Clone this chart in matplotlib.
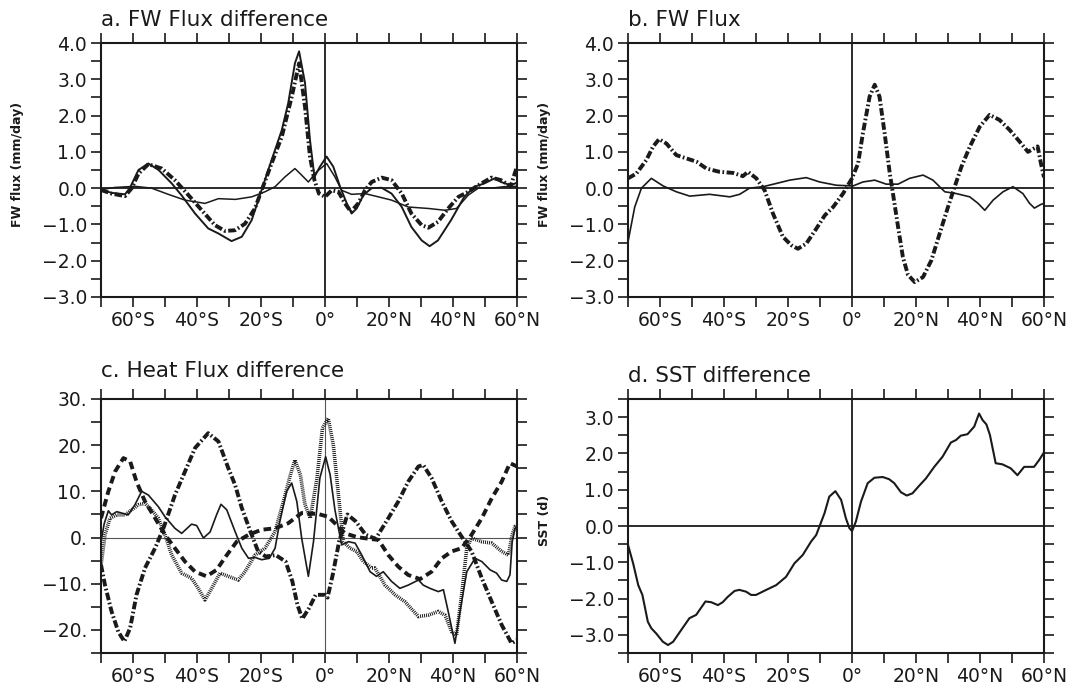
import matplotlib
matplotlib.use("Agg")
import matplotlib.pyplot as plt

plt.rcParams["font.family"] = ["DejaVu Sans"]
plt.rcParams["lines.scale_dashes"] = False

INK = "#1a1a1a"

# ---- a. FW Flux difference ----
a_big_lat = [-70, -66.7, -62.5, -61, -58.3, -55.2, -52, -47.9, -44.8, -40.6, -36.5, -33.3, -29.2, -26,
             -22.9, -19.8, -16.7, -13.5, -11.5, -9.4, -8.1, -6.25, -4.7, -3.3, -1.6, 0.5, 2.6, 4.7, 6.8,
             8.3, 9.9, 12, 14.6, 17.7, 20.8, 24, 27, 30.2, 32.7, 35.3, 39.4, 43.5, 46.7, 49.8, 53, 55, 58, 60]
a_big_val = [-0.04, -0.13, -0.17, 0.0, 0.5, 0.68, 0.5, 0.13, -0.2, -0.7, -1.11, -1.25, -1.46, -1.34,
             -0.88, -0.05, 0.77, 1.6, 2.34, 3.44, 3.77, 2.9, 1.33, 0.31, 0.59, 0.87, 0.59, 0.04, -0.42,
             -0.7, -0.56, -0.19, 0.0, 0.01, -0.15, -0.52, -1.07, -1.44, -1.6, -1.44, -0.88, -0.24, 0.04,
             0.13, 0.27, 0.17, 0.08, 0.15]

a_small_lat = [-70, -65.6, -59.4, -54.2, -49, -43.75, -37.5, -33.3, -28, -22.9, -18.75, -15.6, -12.5,
               -9.4, -7.3, -5.2, -2.6, 0.5, 3.1, 5.2, 8.3, 12.5, 16.7, 20.8, 26, 32.3, 37.5, 41.1, 44.8,
               47.9, 53, 56, 60]
a_small_val = [-0.04, 0.02, 0.05, 0.0, -0.17, -0.33, -0.42, -0.29, -0.31, -0.24, -0.1, 0.04, 0.31,
               0.54, 0.36, 0.17, 0.45, 0.68, 0.31, -0.06, -0.17, -0.15, -0.24, -0.33, -0.52, -0.56,
               -0.61, -0.56, -0.19, 0.0, 0.01, 0.04, 0.05]

a_dd_lat = [-70, -66.7, -62.5, -60.4, -58.3, -55.2, -51, -46.9, -42.7, -38.5, -34.4, -31.25, -28.1, -25,
            -21.9, -19.8, -16.7, -13.5, -10.4, -8.1, -6.25, -4.7, -3.3, -1.9, 0, 2.1, 4.2, 6.25, 8.1,
            10.4, 12.5, 14.6, 17.7, 20.8, 24, 27, 30.2, 32.3, 35.3, 38.5, 41.7, 44.8, 47.9, 52, 55, 58, 60]
a_dd_val = [-0.05, -0.15, -0.22, 0.0, 0.4, 0.66, 0.54, 0.22, -0.19, -0.61, -1.02, -1.18, -1.16, -0.98,
            -0.56, -0.06, 0.68, 1.42, 2.52, 3.44, 2.25, 0.87, 0.22, -0.15, -0.24, -0.06, -0.1, -0.42,
            -0.65, -0.42, -0.06, 0.17, 0.29, 0.22, -0.15, -0.7, -1.02, -1.09, -0.93, -0.56, -0.24, -0.1,
            0.08, 0.29, 0.22, 0.05, 0.6]

# ---- b. FW Flux ----
b_dd_lat = [-70, -67.4, -64.3, -62.2, -60.3, -58, -54.9, -51.8, -48.6, -45.5, -41.4, -37.2, -34.1, -32.5,
            -29.9, -27.3, -24.7, -21.6, -19, -16.9, -14.3, -11.1, -8.5, -5.9, -2.8, 0, 1.9, 3.4, 5.5,
            7.1, 8.6, 10.2, 11.8, 12.8, 14.4, 15.9, 17.5, 19.6, 22.2, 24.8, 27.4, 30, 32.1, 34.2, 36.8,
            39.9, 43, 46.1, 49.3, 52.4, 55, 57, 58, 59, 60]
b_dd_val = [0.27, 0.4, 0.77, 1.14, 1.35, 1.23, 0.91, 0.82, 0.73, 0.54, 0.45, 0.42, 0.33, 0.45,
            0.27, -0.06, -0.7, -1.34, -1.57, -1.67, -1.53, -1.11, -0.75, -0.52, -0.15, 0.27, 0.68, 1.51,
            2.52, 2.85, 2.52, 1.51, 0.41, -0.15, -1.07, -1.9, -2.39, -2.59, -2.45, -1.99, -1.25, -0.52,
            0.04, 0.59, 1.14, 1.69, 2.02, 1.88, 1.6, 1.28, 1.0, 1.1, 1.15, 0.7, 0.3]

b_sol_lat = [-70, -67.9, -65.8, -62.7, -59, -54.9, -50.7, -44.5, -38.2, -35.1, -32, -27.8, -23.6, -19.5,
             -14.3, -10.1, -4.9, 0.3, 3.4, 7.1, 10.7, 14.4, 18, 22.2, 25.3, 29, 32.6, 36.8, 39.4, 41.5,
             44.1, 47.2, 50.3, 53.4, 55.5, 57, 59, 60]
b_sol_val = [-1.48, -0.52, 0.0, 0.27, 0.06, -0.1, -0.22, -0.17, -0.24, -0.17, 0.0, 0.04, 0.13, 0.22,
             0.29, 0.17, 0.08, 0.06, 0.17, 0.22, 0.11, 0.11, 0.27, 0.36, 0.22, -0.1, -0.15, -0.24, -0.42,
             -0.61, -0.33, -0.1, 0.04, -0.15, -0.42, -0.55, -0.45, -0.42]

# ---- c. Heat Flux difference ----
c_sol_lat = [-70, -69, -67.7, -66.7, -65.1, -63.5, -61.5, -59.4, -57.3, -55.2, -52.1, -50, -46.9, -44.8,
             -41.7, -40.1, -38, -35.9, -33.9, -32.5, -30.7, -28.1, -26, -23.9, -21.9, -19.8, -17.4,
             -15.6, -14.1, -12, -10.4, -8.8, -7.3, -5.2, -3.6, -1.6, 0.2, 1.6, 3.1, 5.2, 7.3, 9.4, 11.5,
             14.1, 16.1, 18.2, 20.8, 23.4, 26, 29.2, 30.7, 32.8, 35.4, 37, 38.5, 40.6, 42.2, 44.3, 46.9,
             49, 51.6, 53.6, 55.2, 56.8, 57.8, 58.5, 59.4, 60]
c_sol_val = [-1, 3, 5.8, 4.9, 5.6, 5.3, 4.9, 7.1, 10, 9.2, 6.7, 4.5, 2, 0.9,
             2.9, 2.6, -0.1, 1.2, 4.9, 7.2, 6, 1.3, -2.3, -4.5, -4.3, -4.8, -4.5,
             -2.3, 3.5, 10, 11.8, 7.8, -0.1, -8.4, -0.9, 12.9, 17.5, 13.6, 6, -1.6, -0.9, -1.2, -3.8,
             -7.4, -8.4, -7.4, -9.5, -11, -10.3, -9.2, -10.3, -11, -11.7, -11.3, -16, -22.9, -16, -7.4,
             -4.5, -5.2, -7, -7.7, -9.2, -9.5, -8.1, -0.9, 2, 2.5]

c_dot_lat = [-70, -68.75, -67.2, -65.1, -62.5, -60.4, -58.3, -56.25, -54.2, -52.1, -50, -47.9, -44.8,
             -41.7, -39.6, -37.5, -35.4, -32.8, -30.2, -27.1, -25, -21.9, -18.75, -15.6, -13, -10.8,
             -9.4, -7.7, -6.25, -4.6, -2.5, -0.8, 1, 2.6, 4.2, 5.7, 7.8, 9.9, 12, 14.6, 15.6, 18.75,
             21.9, 25, 29.2, 32.3, 35.4, 37.5, 39.6, 41.1, 42.7, 44.3, 45.8, 49, 52.1, 55.2, 57.3, 58.5,
             59.4, 60]
c_dot_val = [-6, 0.6, 4.2, 4.9, 4.9, 6, 7.1, 7.4, 6, 4.2, 0.6, -3.8, -7.7,
             -8.8, -11, -13.5, -11, -7.7, -8.4, -9.2, -7.4, -3.8, -2.3, 1.3, 7.8, 13.6,
             16.8, 13.6, 7.1, 4.2, 12.9, 23.7, 25.8, 20.1, 9.2, -0.9, -2.3, -3, -5.2, -6.6, -6.6, -10.3,
             -12.4, -13.9, -17.1, -16.8, -16, -16.8, -20.4, -21.1, -12.4, -2.3, -0.1, -0.9, -1.2, -3,
             -3.8, 0.6, 2.4, 2.5]

c_dash_lat = [-70, -67.7, -65.6, -63, -60.9, -58.9, -56.25, -53.1, -50, -46.9, -43.75, -40.6, -37,
              -33.9, -30.7, -27.6, -23.9, -19.8, -15.6, -11.5, -7.3, -2.1, 1, 3.1, 6.25, 10, 14, 16.7,
              19.8, 22.9, 26, 29.7, 33.3, 36.5, 39.6, 42.7, 45.8, 49, 52.1, 55.2, 57.8, 60]
c_dash_val = [4.2, 10, 14.3, 17.2, 16.5, 12.1, 7.8, 4.2, 0.6, -2.3, -5.2, -7.4, -8.4,
              -7, -3.8, -0.9, 0.6, 1.7, 2, 3.1, 5.3, 5.1, 4.5, 3.1, 0.9, 0.1, -0.3, -0.5,
              -3.8, -6.3, -8.1, -9, -7.4, -4.5, -3, -2.3, 0.6, 4.2, 8.5, 12.1, 16.1, 15.4]

c_dd_lat = [-70, -68.75, -66.7, -64.6, -62.7, -60.9, -58.9, -56.25, -53.1, -50.5, -46.9, -43.75, -40.6,
            -36.5, -33.3, -30.2, -28.1, -26, -23.3, -20.9, -18.5, -15.4, -12.3, -10.2, -8.6, -7.1, -5,
            -2.9, 0, 0.8, 2.4, 4.4, 7, 9.6, 12.7, 15.8, 19.8, 22.9, 26, 29.2, 30.7, 33.3, 36.5, 39.6,
            42.7, 45.8, 49, 52.1, 55.2, 58.3, 60]
c_dd_val = [-5.9, -10.3, -16, -20.4, -22.5, -19.6, -12.4, -6.6, -2.3, 2, 9.2, 14.3, 19.4,
            22.6, 20.8, 15, 11.4, 6.4, 1.3, -3, -4.1, -3.8, -5.2, -9.5, -14.6, -17.6, -15.3,
            -12.4, -12.4, -13, -8.1, -0.9, 5, 3.5, 0.6, -0.3, 4.2, 7.8, 12.1, 15.4, 15.7, 12.9, 7.8, 3.5,
            0.2, -3, -8.8, -13.9, -18.9, -22.9, -22.2]

# ---- d. SST difference ----
d_lat = [-70, -68.4, -66.8, -65.5, -63.8, -62.7, -61.2, -59.1, -57.5, -55.9, -53.4, -50.8, -48.7, -45.8,
         -44, -41.9, -40.4, -38.8, -36.7, -35.2, -33.1, -31.5, -30, -26.8, -23.7, -20.6, -18, -15.4,
         -12.8, -11.2, -10.2, -8.6, -7.1, -5.2, -3.4, -1.9, -0.8, 0, 1.2, 2.8, 4.9, 7, 9.6, 11.6, 13.2,
         15.3, 17.1, 18.9, 21, 23.1, 25.7, 28.3, 30.9, 32.5, 34, 36.1, 38.2, 39.7, 40.8, 42, 43.1, 44.9,
         47, 49.6, 51.7, 53.8, 56.9, 58.5, 60]
d_val = [-0.52, -1.03, -1.63, -1.9, -2.64, -2.82, -2.96, -3.19, -3.28, -3.19, -2.87, -2.54, -2.45, -2.08,
         -2.1, -2.18, -2.1, -1.95, -1.79, -1.76, -1.81, -1.9, -1.9, -1.76, -1.63, -1.4, -1.03, -0.8,
         -0.43, -0.25, -0.02, 0.35, 0.81, 0.96, 0.72, 0.21, -0.06, -0.14, 0.12, 0.67, 1.18, 1.33, 1.35,
         1.29, 1.18, 0.93, 0.84, 0.9, 1.11, 1.31, 1.63, 1.91, 2.3, 2.37, 2.49, 2.53, 2.74, 3.1, 2.92,
         2.8, 2.51, 1.73, 1.7, 1.59, 1.4, 1.63, 1.63, 1.82, 2.03]

lon_ticks = list(range(-70, 61, 10))
lon_labels = {-60: "60°S", -40: "40°S", -20: "20°S", 0: "0°", 20: "20°N", 40: "40°N", 60: "60°N"}

DASHDOT = (5.5, 1.8, 1.2, 1.8)
DASHED = (5.5, 3.2)
DOTTED = (0.7, 0.75)


def fmt_num(v, style):
    s = f"{abs(v):.1f}" if style == "f1" else f"{abs(v):.0f}."
    return ("\u2212" + s) if v < 0 else s


def frame(ax, ylim, major, minor, style, title, title_pad, ylabel=None, zero_lw=1.3, zero_col=INK):
    ax.set_xlim(-70, 60)
    ax.set_ylim(*ylim)
    ax.set_xticks(lon_ticks)
    ax.set_xticklabels([lon_labels.get(t, "") for t in lon_ticks])
    ax.set_yticks(major)
    ax.set_yticklabels([fmt_num(v, style) for v in major])
    ax.set_yticks(minor, minor=True)
    ax.tick_params(which="both", direction="out", length=7, width=1.2, color=INK,
                   top=True, right=True, labelsize=13.5, labelcolor=INK, pad=3)
    for sp in ax.spines.values():
        sp.set_linewidth(1.5)
        sp.set_color(INK)
    ax.axhline(0, color=zero_col, lw=zero_lw, zorder=1)
    ax.axvline(0, color=zero_col, lw=zero_lw, zorder=1)
    ax.text(0.0, 1.0 + title_pad / 254.0, title, transform=ax.transAxes, ha="left",
            va="baseline", fontsize=15.5, color=INK)
    if ylabel:
        ax.text(-0.2, 0.52, ylabel, transform=ax.transAxes, rotation=90, ha="center",
                va="center", fontsize=9, fontweight="bold", color=INK)


fig = plt.figure(figsize=(10.72, 6.93), dpi=100)
W, H = 416 / 1072, 254 / 693
ax_a = fig.add_axes([101 / 1072, 1 - 297 / 693, W, H])
ax_b = fig.add_axes([628 / 1072, 1 - 297 / 693, W, H])
ax_c = fig.add_axes([101 / 1072, 1 - 653 / 693, W, H])
ax_d = fig.add_axes([628 / 1072, 1 - 653 / 693, W, H])

fw_major = [-3, -2, -1, 0, 1, 2, 3, 4]
fw_minor = [-2.5, -1.5, -0.5, 0.5, 1.5, 2.5, 3.5]

# a
frame(ax_a, (-3, 4), fw_major, fw_minor, "f1", "a. FW Flux difference", 17, "FW flux (mm/day)")
ax_a.plot(a_small_lat, a_small_val, color=INK, lw=1.1)
ax_a.plot(a_dd_lat, a_dd_val, color=INK, lw=2.8, dashes=DASHDOT)
ax_a.plot(a_big_lat, a_big_val, color=INK, lw=1.4)

# b
frame(ax_b, (-3, 4), fw_major, fw_minor, "f1", "b. FW Flux", 17, "FW flux (mm/day)")
ax_b.plot(b_sol_lat, b_sol_val, color=INK, lw=1.2)
ax_b.plot(b_dd_lat, b_dd_val, color=INK, lw=2.8, dashes=DASHDOT)

# c
frame(ax_c, (-25, 30), [-20, -10, 0, 10, 20, 30], [-25, -15, -5, 5, 15, 25], "f0",
      "c. Heat Flux difference", 22, None, zero_lw=0.8, zero_col="#555555")
ax_c.plot(c_dot_lat, c_dot_val, color=INK, lw=2.6, dashes=DOTTED, solid_capstyle="butt",
          dash_capstyle="butt")
ax_c.plot(c_dash_lat, c_dash_val, color=INK, lw=2.8, dashes=DASHED)
ax_c.plot(c_dd_lat, c_dd_val, color=INK, lw=2.8, dashes=DASHDOT)
ax_c.plot(c_sol_lat, c_sol_val, color=INK, lw=1.2)

# d
frame(ax_d, (-3.5, 3.5), [-3, -2, -1, 0, 1, 2, 3], [-3.5, -2.5, -1.5, -0.5, 0.5, 1.5, 2.5, 3.5],
      "f1", "d. SST difference", 17, "SST (d)")
ax_d.plot(d_lat, d_val, color=INK, lw=1.5)

fig.savefig("out.png", dpi=100)
